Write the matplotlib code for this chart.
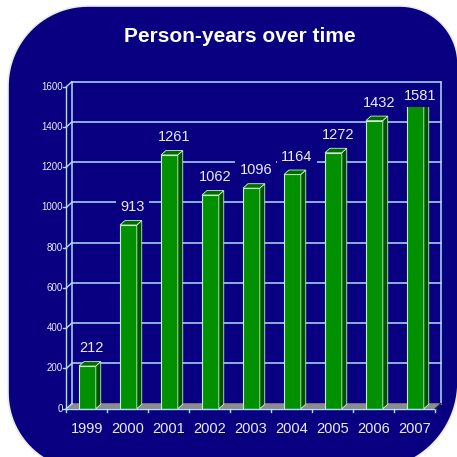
import numpy as np
import matplotlib.pyplot as plt
from matplotlib.patches import Polygon, Rectangle

years = ['1999', '2000', '2001', '2002', '2003', '2004', '2005', '2006', '2007']
person_years = [212, 913, 1261, 1062, 1096, 1164, 1272, 1432, 1581]
yticks = [0, 200, 400, 600, 800, 1000, 1200, 1400, 1600]

navy = '#080080'
grid_col = '#b0def8'
txt_col = '#ececf4'
narrow = ['Liberation Sans Narrow', 'Liberation Sans', 'DejaVu Sans']

fig = plt.figure(figsize=(4.57, 4.57), dpi=100)
fig.patch.set_facecolor('white')

# background panel with uneven rounded corners (pixel coords, y down)
bg = fig.add_axes([0, 0, 1, 1])
bg.set_xlim(0, 457)
bg.set_ylim(457, 0)
bg.axis('off')

def corner(cx, cy, r, t0, t1):
    t = np.radians(np.linspace(t0, t1, 30))
    return np.column_stack([cx + r * np.cos(t), cy + r * np.sin(t)])

L, T, R, B = 8, 6, 458, 470
pts = np.vstack([
    corner(L + 80, T + 80, 80, 180, 270),
    corner(R - 58, T + 58, 58, 270, 360),
    corner(R - 88, B - 88, 88, 0, 90),
    corner(L + 77, B - 77, 77, 90, 180),
])
bg.add_patch(Polygon(pts, closed=True, facecolor=navy, edgecolor='#ececec', lw=1.2))

fig.text(240 / 457, 1 - 36 / 457, 'Person-years over time', color='white',
         fontsize=15, fontweight='bold', family='Liberation Sans',
         ha='center', va='center')

# plot area
ax = fig.add_axes([66.3 / 457, 48.3 / 457, 369 / 457, 322 / 457])
ax.set_xlim(-0.5, 8.5)
ax.set_ylim(0, 1600)
ax.axis('off')

DX, DY = 0.135, 25
n = len(years)
x0, x1 = -0.5, n - 0.5

# floor
ax.add_patch(Polygon([(x0, 0), (x1, 0), (x1 + DX, DY), (x0 + DX, DY)], closed=True,
                     facecolor='#8c8c8c', edgecolor='#8c8c8c', lw=0.5, zorder=1,
                     clip_on=False))

# back wall grid and side wall
for yv in yticks[1:]:
    ax.plot([x0 + DX, x1 + DX], [yv + DY, yv + DY], color=grid_col, lw=1.1,
            zorder=1, clip_on=False)
for yv in yticks:
    ax.plot([x0, x0 + DX], [yv, yv + DY], color=grid_col, lw=1.0, zorder=1,
            clip_on=False)
    ax.plot([x0 - 0.07, x0], [yv, yv], color=grid_col, lw=1.0, clip_on=False)
    ax.text(x0 - 0.09, yv, str(yv), color=txt_col, fontsize=7, family=narrow,
            ha='right', va='center')
ax.plot([x0 + DX, x0 + DX], [DY, 1600 + DY], color=grid_col, lw=1.1, zorder=1,
        clip_on=False)
ax.plot([x1 + DX, x1 + DX], [DY, 1600 + DY], color=grid_col, lw=1.1, zorder=1,
        clip_on=False)
ax.plot([x0, x0], [0, 1600], color=grid_col, lw=1.0, zorder=1, clip_on=False)

# front x axis and ticks
ax.plot([x0, x1], [0, 0], color=grid_col, lw=1.0, zorder=4, clip_on=False)
ax.plot([x1, x1 + DX], [0, DY], color='#202020', lw=1.0, zorder=4, clip_on=False)
for b in np.arange(x0, x1 + 0.01, 1.0):
    ax.plot([b, b], [0, -18], color=grid_col, lw=1.0, clip_on=False)

# bars
w, bdx, bdy = 0.41, 0.12, 22
for i, v in enumerate(person_years):
    left = i - 0.19
    right = left + w
    ax.add_patch(Rectangle((left, 0), w, v, facecolor='#009000',
                           edgecolor='#c8f0c8', lw=0.8, zorder=3))
    ax.add_patch(Polygon([(right, 0), (right + bdx, bdy), (right + bdx, v + bdy),
                          (right, v)], closed=True, facecolor='#005200',
                         edgecolor='#c8f0c8', lw=0.6, zorder=3))
    ax.add_patch(Polygon([(left, v), (right, v), (right + bdx, v + bdy),
                          (left + bdx, v + bdy)], closed=True, facecolor='#006c00',
                         edgecolor='#c8f0c8', lw=0.6, zorder=3, clip_on=False))
    ax.text(i + 0.12, min(v + 88, 1556), str(v), color=txt_col, fontsize=10.5,
            family=narrow, ha='center', va='center', zorder=5,
            bbox=dict(boxstyle='square,pad=0.3', facecolor=navy, edgecolor='none'))
    ax.text(i, -100, years[i], color=txt_col, fontsize=10.5, family=narrow,
            ha='center', va='center')

fig.savefig('out.png', dpi=100)
